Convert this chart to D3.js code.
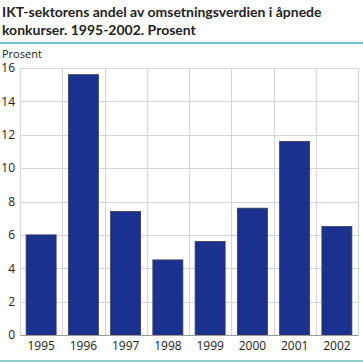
<!DOCTYPE html>
<html>
<head>
<meta charset="utf-8">
<script src="https://d3js.org/d3.v7.min.js"></script>
<style>
body { margin: 0; background: #fff; }
text { font-family: "Open Sans", sans-serif; }
</style>
</head>
<body>
<svg id="chart" width="363" height="362"></svg>
<script>
var years = ["1995", "1996", "1997", "1998", "1999", "2000", "2001", "2002"];
var values = [6.0, 15.6, 7.4, 4.5, 5.6, 7.6, 11.6, 6.5];
var yTicks = [0, 2, 4, 6, 8, 10, 12, 14, 16];
var titleLines = ["IKT-sektorens andel av omsetningsverdien i åpnede", "konkurser. 1995-2002. Prosent"];

var svg = d3.select("#chart");
var plotLeft = 20, plotRight = 358, plotTop = 68, plotBottom = 335;

var x = d3.scaleBand().domain(years).range([plotLeft, plotRight]).padding(0);
var y = d3.scaleLinear().domain([0, 16]).range([plotBottom, plotTop]);

// title
svg.selectAll("text.title").data(titleLines).enter().append("text")
    .attr("class", "title")
    .attr("x", 2)
    .attr("y", function (d, i) { return 17 + i * 18; })
    .attr("font-size", 14)
    .attr("font-weight", "bold")
    .attr("fill", "#222")
    .style("font-family", "Lato")
    .text(function (d) { return d; });

svg.append("line")
    .attr("x1", 0).attr("x2", 363).attr("y1", 43).attr("y2", 43)
    .attr("stroke", "#3fb2b0").attr("stroke-width", 1.5);

svg.append("text")
    .attr("x", 2).attr("y", 58)
    .attr("font-size", 11)
    .attr("fill", "#222")
    .text("Prosent");

// grid
svg.selectAll("line.hgrid").data(yTicks).enter().append("line")
    .attr("class", "hgrid")
    .attr("x1", plotLeft).attr("x2", plotRight)
    .attr("y1", function (d) { return Math.round(y(d)) + 0.5; })
    .attr("y2", function (d) { return Math.round(y(d)) + 0.5; })
    .attr("stroke", "#d4d4d4");

svg.selectAll("line.vgrid").data(years).enter().append("line")
    .attr("class", "vgrid")
    .attr("x1", function (d) { return Math.round(x(d)) + 0.5; })
    .attr("x2", function (d) { return Math.round(x(d)) + 0.5; })
    .attr("y1", plotTop).attr("y2", plotBottom)
    .attr("stroke", "#d4d4d4");

svg.append("line")
    .attr("x1", plotRight + 0.5).attr("x2", plotRight + 0.5).attr("y1", plotTop).attr("y2", plotBottom)
    .attr("stroke", "#d4d4d4");

// bars
var barW = x.bandwidth() * 0.71;
svg.selectAll("rect.bar").data(values).enter().append("rect")
    .attr("class", "bar")
    .attr("x", function (d, i) { return x(years[i]) + (x.bandwidth() - barW) / 2; })
    .attr("y", function (d) { return y(d); })
    .attr("width", barW)
    .attr("height", function (d) { return plotBottom - y(d); })
    .attr("fill", "#1a318f")
    .attr("stroke", "#3a3a4a")
    .attr("stroke-width", 0.8);

// axes
var yAxis = d3.axisLeft(y).tickValues(yTicks).tickSize(0).tickPadding(5);
var gy = svg.append("g").attr("transform", "translate(" + plotLeft + ",0)").call(yAxis);
gy.select(".domain").remove();
gy.selectAll("text").attr("font-size", 12).attr("fill", "#222").style("font-family", "Open Sans");

var xAxis = d3.axisBottom(x).tickSize(0).tickPadding(6);
var gx = svg.append("g").attr("transform", "translate(0," + plotBottom + ")").call(xAxis);
gx.select(".domain").attr("stroke", "#999");
gx.selectAll("text").attr("font-size", 12).attr("fill", "#222").style("font-family", "Open Sans");

svg.append("line")
    .attr("x1", 0).attr("x2", 363).attr("y1", 361).attr("y2", 361)
    .attr("stroke", "#8fd1c8").attr("stroke-width", 2);
</script>
</body>
</html>
